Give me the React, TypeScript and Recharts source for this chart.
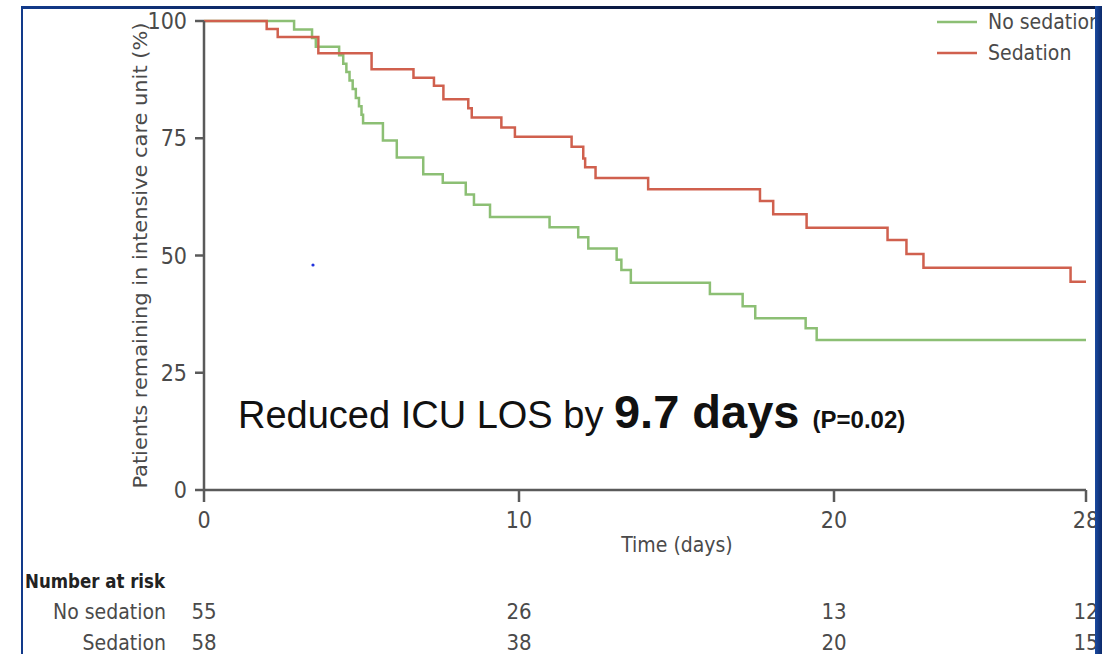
import React from 'react';
import { LineChart, Line, XAxis, YAxis } from 'recharts';

// Kaplan-Meier steps: day of each event and % still in ICU after it
const noSedationDays = [0, 2.86, 3.43, 3.55, 4.29, 4.42, 4.52, 4.62, 4.72, 4.82, 4.92, 5.0, 5.05, 5.68, 6.12, 6.96, 7.58, 8.31, 8.57, 9.08, 10.97, 11.88, 12.2, 13.1, 13.25, 13.55, 16.06, 17.1, 17.5, 19.1, 19.45, 28];
const noSedationPct = [100, 98.2, 96.4, 94.5, 92.7, 90.9, 89.1, 87.3, 85.5, 83.6, 81.8, 80.0, 78.2, 74.5, 70.9, 67.3, 65.5, 63.0, 60.8, 58.2, 56.0, 53.9, 51.5, 49.1, 46.9, 44.2, 41.8, 39.2, 36.6, 34.5, 32.0, 32.0];

const sedationDays = [0, 1.99, 2.34, 3.63, 5.32, 6.65, 7.3, 7.6, 8.39, 8.5, 9.44, 9.87, 11.67, 12.04, 12.1, 12.43, 14.1, 17.65, 18.07, 19.13, 21.7, 22.3, 22.84, 27.51, 28];
const sedationPct = [100, 98.3, 96.6, 93.1, 89.7, 87.9, 86.2, 83.3, 81.4, 79.4, 77.3, 75.3, 73.2, 70.7, 68.8, 66.5, 64.1, 61.6, 58.8, 55.9, 53.3, 50.3, 47.4, 44.4, 44.4];

const timeTicks = [0, 10, 20, 28];
const pctTicks = [0, 25, 50, 75, 100];
const atRiskNoSedation = [55, 26, 13, 12];
const atRiskSedation = [58, 38, 20, 15];

const GREEN = '#8cbf74';
const RED = '#d0604e';
const INK = '#4a4a4a';
const AXIS = '#5a5a5a';
const NARROW = "'Liberation Sans Narrow', 'DejaVu Sans Condensed', 'Noto Sans', sans-serif";

const toSteps = (days: number[], pct: number[]) => days.map((t, i) => ({ t, s: pct[i] }));
const noSedation = toSteps(noSedationDays, noSedationPct);
const sedation = toSteps(sedationDays, sedationPct);

const riskFormatter = (counts: number[]) => (v: number) => {
  const i = timeTicks.findIndex((t) => Math.abs(t - Number(v)) < 1e-6);
  return i < 0 ? '' : String(counts[i]);
};

const renderYLabel = (props: any) => {
  const vb = props.viewBox;
  const cx = vb.x - 4;
  const cy = vb.y + vb.height / 2;
  return (
    <text x={cx} y={cy} transform={`rotate(-90, ${cx}, ${cy})`} textAnchor="middle" dominantBaseline="central"
      textLength={466} lengthAdjust="spacingAndGlyphs" fill={INK} fontSize={20} fontFamily={NARROW}>
      Patients remaining in intensive care unit (%)
    </text>
  );
};

const renderTimeLabel = (props: any) => {
  const vb = props.viewBox;
  return (
    <g>
      <text x={vb.x + vb.width / 2 + 32} y={vb.y + 62} textAnchor="middle" fill={INK} fontSize={21} fontFamily={NARROW}>
        Time (days)
      </text>
      <text x={vb.x - 179} y={vb.y + 98} textLength={140} lengthAdjust="spacingAndGlyphs"
        fill="#222" fontSize={20} fontWeight="bold" fontFamily={NARROW}>
        Number at risk
      </text>
    </g>
  );
};

const rowLabel = (name: string) => (props: any) => {
  const vb = props.viewBox;
  return (
    <text x={vb.x - 38} y={vb.y + 24} textAnchor="end" fill={INK} fontSize={21} fontFamily={NARROW}>
      {name}
    </text>
  );
};

export default function App() {
  return (
    <div style={{ position: 'fixed', left: 0, top: 0, width: 1102, height: 654, background: '#fff', overflow: 'hidden' }}>
      <LineChart width={1102} height={654} margin={{ top: 21, right: 16, left: 144, bottom: 0 }}>
        <XAxis type="number" dataKey="t" domain={[0, 28]} ticks={timeTicks} height={105}
          axisLine={{ stroke: AXIS, strokeWidth: 2.5 }} tickLine={{ stroke: AXIS, strokeWidth: 2.5 }}
          tickSize={12} tickMargin={10} tick={{ fill: INK, fontSize: 23, fontFamily: NARROW }}
          label={renderTimeLabel} />
        <XAxis xAxisId="r1" type="number" dataKey="t" domain={[0, 28]} allowDataOverflow ticks={timeTicks} height={31}
          axisLine={false} tickLine={false} tickSize={0} tickMargin={8}
          tickFormatter={riskFormatter(atRiskNoSedation)} tick={{ fill: INK, fontSize: 22, fontFamily: NARROW }}
          label={rowLabel('No sedation')} />
        <XAxis xAxisId="r2" type="number" dataKey="t" domain={[0, 28]} allowDataOverflow ticks={timeTicks} height={28}
          axisLine={false} tickLine={false} tickSize={0} tickMargin={8}
          tickFormatter={riskFormatter(atRiskSedation)} tick={{ fill: INK, fontSize: 22, fontFamily: NARROW }}
          label={rowLabel('Sedation')} />
        <YAxis type="number" domain={[0, 100]} ticks={pctTicks} width={60}
          axisLine={{ stroke: AXIS, strokeWidth: 2.5 }} tickLine={{ stroke: AXIS, strokeWidth: 2.5 }}
          tickSize={9} tickMargin={8} tick={{ fill: INK, fontSize: 23, fontFamily: NARROW }}
          label={renderYLabel} />
        <Line data={noSedation} dataKey="s" type="stepAfter" stroke={GREEN} strokeWidth={2.5} dot={false} isAnimationActive={false} />
        <Line data={sedation} dataKey="s" type="stepAfter" stroke={RED} strokeWidth={2.5} dot={false} isAnimationActive={false} />
      </LineChart>

      {/* legend */}
      <svg width={1102} height={80} style={{ position: 'absolute', left: 0, top: 0, pointerEvents: 'none' }}>
        <line x1={937} x2={977} y1={22} y2={22} stroke={GREEN} strokeWidth={2.5} />
        <text x={988} y={29} fill={INK} fontSize={21} fontFamily={NARROW}>No sedation</text>
        <line x1={937} x2={977} y1={53} y2={53} stroke={RED} strokeWidth={2.5} />
        <text x={988} y={60} fill={INK} fontSize={21} fontFamily={NARROW}>Sedation</text>
      </svg>

      {/* result annotation */}
      <svg width={1102} height={654} style={{ position: 'absolute', left: 0, top: 0, pointerEvents: 'none' }}>
        <text x={238} y={428} fill="#111" fontFamily="'Liberation Sans', Arial, sans-serif">
          <tspan fontSize={38}>Reduced ICU LOS by </tspan>
          <tspan fontSize={47} fontWeight="bold">9.7 days </tspan>
          <tspan fontSize={24} fontWeight="bold">(P=0.02)</tspan>
        </text>
        <circle cx={313} cy={265} r={1.6} fill="#2233dd" />
      </svg>

      {/* slide frame */}
      <div style={{ position: 'absolute', left: 21, top: 6, width: 1080, height: 3, background: 'linear-gradient(90deg, #123a8a, #0a1a44 40%, #0a1a44)' }} />
      <div style={{ position: 'absolute', left: 21, top: 6, width: 2, height: 648, background: '#123a8a' }} />
      <div style={{ position: 'absolute', left: 1095, top: 6, width: 7, height: 648, background: 'linear-gradient(90deg, #1a4aa0, #0d2a6a)' }} />
    </div>
  );
}
